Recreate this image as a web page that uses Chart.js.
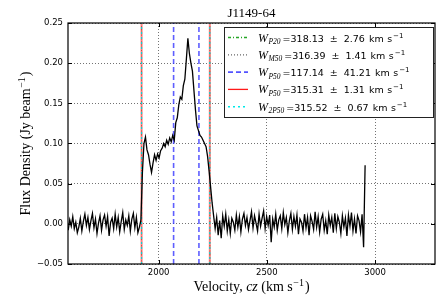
<!DOCTYPE html>
<html>
<head>
<meta charset="utf-8">
<script src="https://cdn.jsdelivr.net/npm/chart.js@4.4.0/dist/chart.umd.min.js"></script>
<style>
  html, body { margin: 0; padding: 0; background: #fff; }
</style>
</head>
<body>
<canvas id="chart" width="445" height="296"></canvas>
<script>
const velocity = [
  1582, 1589, 1596, 1603, 1610, 1617, 1624, 1631, 1638, 1645,
  1652, 1659, 1666, 1673, 1680, 1687, 1694, 1701, 1708, 1715,
  1722, 1729, 1736, 1743, 1750, 1757, 1764, 1771, 1778, 1785,
  1792, 1799, 1806, 1813, 1820, 1827, 1834, 1841, 1848, 1855,
  1862, 1869, 1876, 1883, 1890, 1897, 1904, 1911, 1918, 1925,
  1932, 1939, 1946, 1953, 1960, 1967, 1974, 1981, 1988, 1995,
  2002, 2009, 2016, 2023, 2030, 2037, 2044, 2051, 2058, 2065,
  2072, 2079, 2086, 2093, 2100, 2107, 2114, 2121, 2128, 2135,
  2142, 2149, 2156, 2163, 2170, 2177, 2184, 2191, 2198, 2205,
  2212, 2219, 2226, 2233, 2240, 2247, 2254, 2261, 2268, 2275,
  2282, 2289, 2296, 2303, 2310, 2317, 2324, 2331, 2338, 2345,
  2352, 2359, 2366, 2373, 2380, 2387, 2394, 2401, 2408, 2415,
  2422, 2429, 2436, 2443, 2450, 2457, 2464, 2471, 2478, 2485,
  2492, 2499, 2506, 2513, 2520, 2527, 2534, 2541, 2548, 2555,
  2562, 2569, 2576, 2583, 2590, 2597, 2604, 2611, 2618, 2625,
  2632, 2639, 2646, 2653, 2660, 2667, 2674, 2681, 2688, 2695,
  2702, 2709, 2716, 2723, 2730, 2737, 2744, 2751, 2758, 2765,
  2772, 2779, 2786, 2793, 2800, 2807, 2814, 2821, 2828, 2835,
  2842, 2849, 2856, 2863, 2870, 2877, 2884, 2891, 2898, 2905,
  2912, 2919, 2926, 2933, 2940, 2947, 2954
];

const flux = [
  // baseline below the line
  -0.008, 0.005, -0.003, 0.009, -0.006, 0.002, -0.011, -0.004, 0.007, -0.009,
  0.003, 0.012, -0.002, 0.008, -0.007, 0.004, 0.013, -0.005, 0.006, -0.012,
  0.001, 0.010, -0.008, 0.005, 0.011, -0.003, 0.009, -0.015, 0.002, 0.007,
  -0.006, 0.012, -0.004, 0.008, -0.010, 0.003, 0.014, -0.007, 0.005, -0.002,
  0.010, -0.009, 0.006, 0.013, -0.005, 0.008, -0.011, -0.004,
  // the HI line
  0.005, 0.065, 0.100, 0.108, 0.092, 0.086, 0.074, 0.064, 0.076, 0.086,
  0.079, 0.087, 0.082, 0.091, 0.094, 0.100, 0.096, 0.104, 0.099, 0.107,
  0.102, 0.110, 0.104, 0.126, 0.132, 0.148, 0.158, 0.155, 0.172, 0.180,
  0.205, 0.231, 0.212, 0.200, 0.190, 0.166, 0.142, 0.122, 0.116, 0.110,
  0.108, 0.104, 0.100, 0.096, 0.084, 0.066, 0.046, 0.026, 0.010,
  // baseline above the line
  -0.006, 0.008, -0.014, 0.004, -0.018, 0.010, -0.003, 0.012, -0.009, 0.005,
  -0.012, 0.007, 0.002, -0.008, 0.011, -0.004, 0.009, -0.010, 0.006, 0.013,
  -0.002, 0.008, -0.007, 0.004, 0.015, -0.005, 0.010, 0.001, -0.009, 0.012,
  -0.003, 0.007, 0.016, -0.006, 0.009, -0.002, 0.011, -0.023, 0.006, -0.004,
  0.012, -0.008, 0.005, 0.010, -0.006, 0.014, -0.001, 0.008, -0.011, 0.004,
  0.013, -0.007, 0.009, -0.003, 0.011, -0.013, 0.006, 0.002, -0.009, 0.012,
  -0.005, 0.008, -0.014, 0.010, 0.003, -0.007, 0.015, -0.004, 0.009, -0.010,
  0.006, 0.012, -0.008, 0.004, -0.013, 0.011, -0.002, 0.008, -0.011, 0.013,
  -0.006, 0.009, 0.002, -0.012, 0.010, -0.004, 0.007, -0.015, 0.011, -0.003,
  0.014, -0.009, 0.006, -0.012, 0.010, 0.004, -0.010, 0.012,
  -0.029, 0.073
];

const xTicks = [2000, 2500, 3000];
const yTicks = [-0.05, 0, 0.05, 0.10, 0.15, 0.20, 0.25];
const yTickLabels = ['\u22120.05', '0.00', '0.05', '0.10', '0.15', '0.20', '0.25'];

// line edges (km/s) for each width measure
const edgesP20 = [1920.6, 2236.9];
const edgesM50 = [1920.8, 2236.6];
const edgesPk50 = [2069.0, 2186.1];
const edgesP50 = [1921.0, 2236.3];
const edges2P50 = [1920.9, 2236.4];

const widthNames = ['P20', 'M50', 'P50', 'P50', '2P50'];
const widthValues = ['318.13', '316.39', '117.14', '315.31', '315.52'];
const widthErrors = ['2.76', '1.41', '41.21', '1.31', '0.67'];

const legendStyles = [
  { color: 'rgba(0,150,0,0.85)', dash: [3, 2, 1, 2], width: 1.3 },
  { color: 'rgba(0,0,0,0.6)', dash: [1, 2], width: 1.2 },
  { color: 'rgba(40,40,255,0.8)', dash: [5, 3], width: 1.6 },
  { color: 'rgba(255,0,0,0.9)', dash: [], width: 1.3 },
  { color: '#00e8e8', dash: [2, 3], width: 1.4 }
];
const plotStyles = [
  { color: 'rgba(0,150,0,0.35)', dash: [3, 2, 1, 2], width: 1.0 },
  { color: 'rgba(0,0,0,0.35)', dash: [1, 2], width: 1.0 },
  { color: 'rgba(40,40,255,0.75)', dash: [5, 3], width: 1.6 },
  { color: 'rgba(255,40,40,0.6)', dash: [], width: 2.0 },
  { color: '#00d8d8', dash: [2, 3], width: 1.2 }
];
const edgeSets = [edgesP20, edgesM50, edgesPk50, edgesP50, edges2P50];

const serif = '"Liberation Serif", "Times New Roman", serif';
const sans = '"DejaVu Sans", sans-serif';

function vline(v, st) {
  return {
    data: [{ x: v, y: -0.05 }, { x: v, y: 0.25 }],
    borderColor: st.color,
    borderDash: st.dash,
    borderWidth: st.width,
    pointRadius: 0
  };
}

const datasets = [{
  data: velocity.map((v, i) => ({ x: v, y: flux[i] })),
  borderColor: '#000',
  borderWidth: 1.3,
  pointRadius: 0,
  tension: 0
}];
// cyan on top of red, green/black underneath
[4, 3, 2, 1, 0].forEach(k => {
  edgeSets[k].forEach(v => datasets.push(vline(v, plotStyles[k])));
});

function drawParts(ctx, x, y, parts) {
  parts.forEach(p => {
    x += p.gap || 0;
    ctx.font = p.font;
    ctx.fillText(p.t, x, y + (p.dy || 0));
    x += ctx.measureText(p.t).width;
  });
  return x;
}
function partsWidth(ctx, parts) {
  let w = 0;
  parts.forEach(p => {
    ctx.font = p.font;
    w += (p.gap || 0) + ctx.measureText(p.t).width;
  });
  return w;
}

const decor = {
  id: 'decor',
  afterDatasetsDraw(chart) {
    const { ctx, chartArea: a, scales: { x, y } } = chart;
    ctx.save();
    ctx.strokeStyle = '#000';
    ctx.lineWidth = 1;
    ctx.beginPath();
    xTicks.forEach(v => {
      const px = Math.round(x.getPixelForValue(v)) + 0.5;
      ctx.moveTo(px, a.bottom); ctx.lineTo(px, a.bottom - 4);
      ctx.moveTo(px, a.top); ctx.lineTo(px, a.top + 4);
    });
    yTicks.forEach(v => {
      const py = Math.round(y.getPixelForValue(v)) + 0.5;
      ctx.moveTo(a.left, py); ctx.lineTo(a.left + 4, py);
      ctx.moveTo(a.right, py); ctx.lineTo(a.right - 4, py);
    });
    ctx.stroke();
    ctx.lineWidth = 1.2;
    ctx.strokeRect(a.left, a.top, a.right - a.left, a.bottom - a.top);
    ctx.restore();
  },
  afterDraw(chart) {
    const { ctx, chartArea: a } = chart;
    const cx = (a.left + a.right) / 2;
    ctx.save();
    ctx.fillStyle = '#000';
    ctx.textBaseline = 'alphabetic';

    // title
    ctx.font = '13px ' + serif;
    ctx.textAlign = 'center';
    ctx.fillText('J1149-64', cx, 17);
    ctx.textAlign = 'left';

    // x axis title
    const xt = [
      { t: 'Velocity, ', font: '14px ' + serif },
      { t: 'cz', font: 'italic 14px ' + serif },
      { t: ' (km s', font: '14px ' + serif },
      { t: '\u22121', font: '10px ' + serif, dy: -5, gap: 0.5 },
      { t: ')', font: '14px ' + serif, gap: 1 }
    ];
    drawParts(ctx, cx - partsWidth(ctx, xt) / 2, 291, xt);

    // y axis title
    const yt = [
      { t: 'Flux Density (Jy beam', font: '14px ' + serif },
      { t: '\u22121', font: '10px ' + serif, dy: -5, gap: 0.5 },
      { t: ')', font: '14px ' + serif, gap: 1 }
    ];
    ctx.save();
    ctx.translate(30, (a.top + a.bottom) / 2);
    ctx.rotate(-Math.PI / 2);
    drawParts(ctx, -partsWidth(ctx, yt) / 2, 0, yt);
    ctx.restore();

    // legend
    const bx = 224, by = 27, bw = 209, bh = 90;
    ctx.fillStyle = '#fff';
    ctx.fillRect(bx, by, bw, bh);
    ctx.strokeStyle = '#222';
    ctx.lineWidth = 1;
    ctx.strokeRect(bx + 0.5, by + 0.5, bw, bh);
    widthNames.forEach((name, i) => {
      const ry = 37.5 + i * 17.3;
      const st = legendStyles[i];
      ctx.strokeStyle = st.color;
      ctx.lineWidth = st.width;
      ctx.setLineDash(st.dash);
      ctx.beginPath();
      ctx.moveTo(228, ry);
      ctx.lineTo(248, ry);
      ctx.stroke();
      ctx.setLineDash([]);
      ctx.fillStyle = '#000';
      drawParts(ctx, 258, ry + 4, [
        { t: 'W', font: 'italic 12px ' + serif },
        { t: name, font: 'italic 7.5px ' + serif, dy: 2.5, gap: 0.5 },
        { t: '=' + widthValues[i], font: '9.5px ' + sans, gap: 2 },
        { t: '\u00b1', font: '9.5px ' + sans, gap: 6 },
        { t: widthErrors[i], font: '9.5px ' + sans, gap: 6 },
        { t: 'km', font: '9.5px ' + sans, gap: 4 },
        { t: 's', font: '9.5px ' + sans, gap: 3.5 },
        { t: '\u22121', font: '7px ' + sans, dy: -4, gap: 1 }
      ]);
    });
    ctx.restore();
  }
};

new Chart(document.getElementById('chart'), {
  type: 'line',
  data: { datasets },
  options: {
    responsive: false,
    animation: false,
    devicePixelRatio: 1,
    layout: { padding: { top: 23, right: 10, left: 0, bottom: 0 } },
    plugins: { legend: { display: false }, tooltip: { enabled: false }, title: { display: false } },
    scales: {
      x: {
        type: 'linear',
        min: 1581,
        max: 3277,
        afterBuildTicks: s => { s.ticks = xTicks.map(v => ({ value: v })); },
        afterFit: s => { s.height = 32; },
        ticks: { color: '#000', font: { family: sans, size: 8.5 }, padding: 4, maxRotation: 0, callback: v => String(v) },
        grid: { color: 'rgba(0,0,0,0.55)', lineWidth: 1, drawTicks: false },
        border: { display: false, dash: [1, 2] }
      },
      y: {
        type: 'linear',
        min: -0.05,
        max: 0.25,
        afterBuildTicks: s => { s.ticks = yTicks.map(v => ({ value: v })); },
        afterFit: s => { s.width = 68; },
        ticks: { color: '#000', font: { family: sans, size: 8.5 }, padding: 5, callback: (v, i) => yTickLabels[i] },
        grid: { color: 'rgba(0,0,0,0.55)', lineWidth: 1, drawTicks: false },
        border: { display: false, dash: [1, 2] }
      }
    }
  },
  plugins: [decor]
});
</script>
</body>
</html>
